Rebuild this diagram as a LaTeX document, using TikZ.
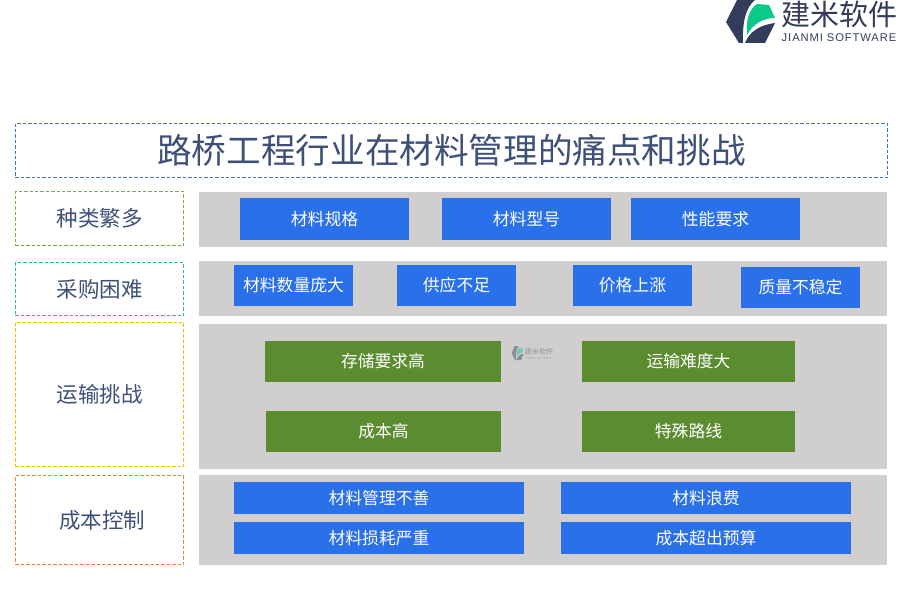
\documentclass[tikz,border=0pt]{standalone}
\usepackage{fontspec}
\setmainfont{Noto Sans CJK SC}
\newfontfamily\latinfont[LetterSpace=8]{Liberation Sans}
\definecolor{ink}{HTML}{3F5078}
\definecolor{logodark}{HTML}{333D5B}
\definecolor{logogreen}{HTML}{0CC98A}
\definecolor{graybar}{HTML}{D0CECE}
\definecolor{bluefill}{HTML}{2A70E8}
\definecolor{greenfill}{HTML}{5B8C2F}
\definecolor{edgetitle}{HTML}{3F6FD0}
\definecolor{edgeone}{HTML}{6CB33F}
\definecolor{edgetwo}{HTML}{26BBA0}
\definecolor{edgethree}{HTML}{F5BA00}
\definecolor{edgefour}{HTML}{F0802F}
\newcommand{\fs}[1]{\fontsize{#1bp}{#1bp}\selectfont}
\newcommand{\bx}[7][]{%
  \pgfmathsetmacro{\cxx}{(#3+#5)/2}\pgfmathsetmacro{\cyy}{(#4+#6)/2}%
  \pgfmathsetmacro{\wxx}{#5-#3}\pgfmathsetmacro{\hyy}{#6-#4}%
  \node[#1,minimum width=\wxx bp,minimum height=\hyy bp] (#2) at (\cxx,\cyy) {#7};}
\newcommand{\logomark}{%
    \fill[logodark] (737,0) -- (755,0) .. controls (747,6) and (742,20) .. (743,43) -- (739,43) -- (726,22) -- cycle;
    \fill[logogreen] (747,35) .. controls (746,22) and (748,10) .. (757,4) -- (769,5) -- (775,18) .. controls (763,18) and (753,24) .. (747,35) -- cycle;
    \fill[logodark] (745,43) .. controls (750,31) and (760,25) .. (775,23) -- (765,43) -- cycle;
}
\tikzset{
  every node/.style={inner sep=0pt,outer sep=0pt},
  dashbox/.style={draw,line width=1.4bp,dash pattern=on 3.4bp off 2bp,text=ink},
  labelbox/.style={dashbox,font=\fs{21.5}},
  graybox/.style={fill=graybar},
  bluebox/.style={fill=bluefill,text=white,font=\fs{16.8}},
  greenbox/.style={fill=greenfill,text=white,font=\fs{16.8}}
}
\begin{document}
\begin{tikzpicture}[x=1bp,y=-1bp]
\useasboundingbox (0,0) rectangle (900,600);
% logo
\logomark
\node[text=logodark,font=\fs{29},anchor=center] (logocn) at (839.5,14) {建米软件};
\node[text=logodark,font=\latinfont\fs{11.2},anchor=center] (logoen) at (839,37.5) {JIANMI SOFTWARE};
% title
\bx[dashbox,draw=edgetitle,font=\fs{34.6}]{title}{15.5}{123.5}{887.5}{177.5}{路桥工程行业在材料管理的痛点和挑战}
% gray bars
\bx[graybox]{bar1}{199}{192}{887}{247}{}
\bx[graybox]{bar2}{199}{261}{887}{316}{}
\bx[graybox]{bar3}{199}{324}{887}{469}{}
\bx[graybox]{bar4}{199}{475}{887}{565}{}
% left labels
\bx[labelbox,draw=edgeone]{l1}{15.5}{191.5}{183.5}{245.5}{种类繁多}
\bx[labelbox,draw=edgetwo]{l2}{15.5}{262.5}{183.5}{315.5}{采购困难}
\bx[labelbox,draw=edgethree]{l3}{15.5}{322.5}{183.5}{466.5}{运输挑战}
\bx[labelbox,draw=edgefour]{l4}{15.5}{475.5}{183.5}{564.5}{}
\node[text=ink,font=\fs{21.5}] (l4t) at (102,520) {成本控制};
% row 1
\bx[bluebox]{a1}{240}{198}{409}{240}{材料规格}
\bx[bluebox]{a2}{442}{198}{611}{240}{材料型号}
\bx[bluebox]{a3}{631}{198}{800}{240}{性能要求}
% row 2
\bx[bluebox]{b1}{234}{265}{353}{306}{材料数量庞大}
\bx[bluebox]{b2}{397}{265}{516}{306}{供应不足}
\bx[bluebox]{b3}{573}{265}{692}{306}{价格上涨}
\bx[bluebox]{b4}{741}{267}{860}{308}{质量不稳定}
% row 3
\bx[greenbox]{c1}{265}{341}{501}{382}{存储要求高}
\bx[greenbox]{c2}{582}{341}{795}{382}{运输难度大}
\bx[greenbox]{c3}{266}{411}{501}{452}{成本高}
\bx[greenbox]{c4}{582}{411}{795}{452}{特殊路线}
% row 4
\bx[bluebox]{d1}{234}{482}{524}{514}{材料管理不善}
\bx[bluebox]{d2}{561}{482}{851}{514}{材料浪费}
\bx[bluebox]{d3}{234}{522}{524}{554}{材料损耗严重}
\bx[bluebox]{d4}{561}{522}{851}{554}{成本超出预算}
% watermark
\begin{scope}[opacity=0.45,xshift=512bp,yshift=-346bp,xscale=0.24,yscale=0.33,xshift=-727bp]
\logomark
\end{scope}
\node[text=logodark,opacity=0.4,font=\fs{7.2}] (wm1) at (539,352) {建米软件};
\node[text=logodark,opacity=0.3,font=\fs{3}] (wm2) at (539,358.5) {JIANMI SOFTWARE};
\end{tikzpicture}
\end{document}
